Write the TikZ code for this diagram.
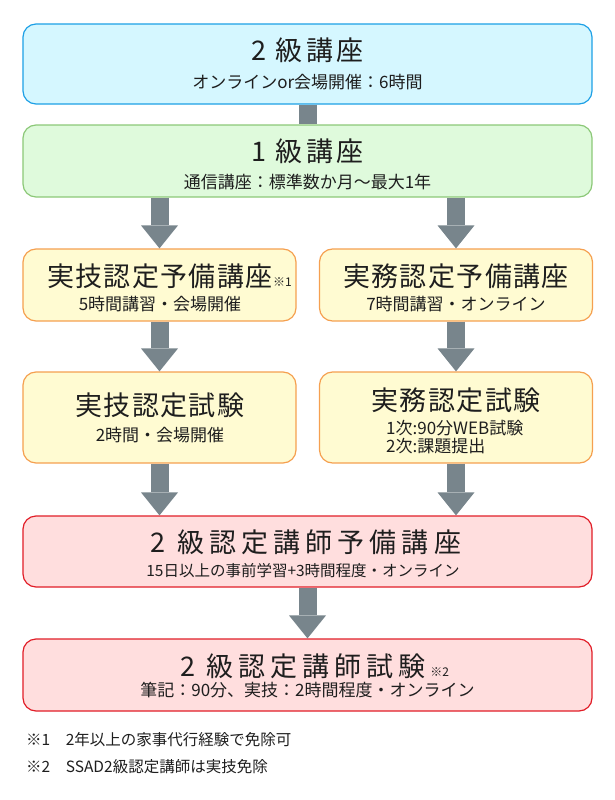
\documentclass[tikz,border=0pt]{standalone}
\usepackage{fontspec}
\setmainfont{Noto Sans CJK JP}
\newfontfamily\ttlfont[LetterSpace=12]{Noto Sans CJK JP}
\newfontfamily\ttlfontC[LetterSpace=5]{Noto Sans CJK JP}
\newfontfamily\ttlfontE[LetterSpace=19]{Noto Sans CJK JP}
\usetikzlibrary{arrows.meta}
\definecolor{ssad_blue}{RGB}{30, 160, 230}
\definecolor{ssad_cyan}{RGB}{213, 247, 255}
\definecolor{ssad_green}{RGB}{140, 200, 120}
\definecolor{ssad_mint}{RGB}{223, 250, 220}
\definecolor{ssad_orange}{RGB}{245, 160, 80}
\definecolor{ssad_cream}{RGB}{255, 251, 210}
\definecolor{ssad_red}{RGB}{225, 30, 40}
\definecolor{ssad_pink}{RGB}{255, 222, 222}
\definecolor{ssad_grey}{RGB}{120, 133, 140}
\definecolor{ssad_ink}{RGB}{30, 30, 30}
\tikzstyle{bx}=[rectangle,rounded corners=13bp,line width=1.2bp,inner sep=0pt]
\tikzstyle{bb}=[bx,fill=ssad_cyan,draw=ssad_blue,minimum width=569bp]
\tikzstyle{gb}=[bx,fill=ssad_mint,draw=ssad_green,minimum width=569bp]
\tikzstyle{yb}=[bx,fill=ssad_cream,draw=ssad_orange,minimum width=273bp]
\tikzstyle{rb}=[bx,fill=ssad_pink,draw=ssad_red,minimum width=569bp]
\tikzstyle{ttl}=[anchor=base,inner sep=0pt,text=ssad_ink,
  font=\ttlfont\fontsize{27bp}{30bp}\selectfont]
\tikzstyle{ttlc}=[ttl,font=\ttlfontC\fontsize{27bp}{30bp}\selectfont]
\tikzstyle{ttle}=[ttl,font=\ttlfontE\fontsize{27bp}{30bp}\selectfont]
\tikzstyle{sub}=[anchor=base,inner sep=0pt,text=ssad_ink,
  font=\fontsize{17bp}{20bp}\selectfont]
\tikzstyle{subs}=[sub,font=\fontsize{15.5bp}{18bp}\selectfont]
\tikzstyle{note}=[anchor=base west,inner sep=0pt,text=ssad_ink,
  font=\fontsize{12bp}{14bp}\selectfont]
\tikzstyle{fn}=[anchor=base west,inner sep=0pt,text=ssad_ink,
  font=\fontsize{15.5bp}{18bp}\selectfont]
\tikzstyle{arr}=[draw=ssad_grey,line width=18bp,
  -{Triangle[length=23bp,width=37bp,line width=0pt]}]

\begin{document}
\begin{tikzpicture}[x=1bp,y=-1bp]
    \useasboundingbox (0,0) rectangle (615,800);
    % boxes
    \node [style=bb, minimum height=80bp] (kouza2) at (307.5,64) {};
    \node [style=gb, minimum height=72bp] (kouza1) at (307.5,161) {};
    \node [style=yb, minimum height=72bp] (jgyobi) at (159.5,285) {};
    \node [style=yb, minimum height=72bp] (jmyobi) at (456,285) {};
    \node [style=yb, minimum height=91bp] (jgshiken) at (159.5,417.5) {};
    \node [style=yb, minimum height=91bp] (jmshiken) at (456,417.5) {};
    \node [style=rb, minimum height=71bp] (kyobi) at (307.5,551.5) {};
    \node [style=rb, minimum height=72bp] (kshiken) at (307.5,675) {};
    % texts
    \node [style=ttl] (t1) at (307.5,61) {2 級講座};
    \node [style=sub] (s1) at (307.5,88) {オンラインor会場開催：6時間};
    \node [style=ttl] (t2) at (307.5,161) {1 級講座};
    \node [style=sub] (s2) at (307.5,188) {通信講座：標準数か月〜最大1年};
    \node [style=ttlc] (t3) at (160,286) {実技認定予備講座};
    \node [style=note] (m1) at (t3.base east) {※1};
    \node [style=sub] (s3) at (160,310) {5時間講習・会場開催};
    \node [style=ttlc] (t4) at (456,286) {実務認定予備講座};
    \node [style=sub] (s4) at (456,310) {7時間講習・オンライン};
    \node [style=ttlc] (t5) at (160,415) {実技認定試験};
    \node [style=sub] (s5) at (160,441) {2時間・会場開催};
    \node [style=ttlc] (t6) at (456,410) {実務認定試験};
    \node [style=sub, anchor=base west] (s6) at (386,434) {1次:90分WEB試験};
    \node [style=sub, anchor=base west] (s7) at (386,452) {2次:課題提出};
    \node [style=ttle] (t7) at (306,552) {2 級認定講師予備講座};
    \node [style=subs] (s8) at (303,576) {15日以上の事前学習+3時間程度・オンライン};
    \node [style=ttle] (t8) at (303,676) {2 級認定講師試験};
    \node [style=note] (m2) at ([xshift=4bp]t8.base east) {※2};
    \node [style=sub] (s9) at (307.5,696) {筆記：90分、実技：2時間程度・オンライン};
    \node [style=fn] (f1) at (26,745) {※1　2年以上の家事代行経験で免除可};
    \node [style=fn] (f2) at (26,772) {※2　SSAD2級認定講師は実技免除};
    % connectors
    \draw [draw=ssad_grey, line width=18bp] (kouza2.south) to (kouza1.north);
    \draw [style=arr] (jgyobi.north |- kouza1.south) to (jgyobi.north);
    \draw [style=arr] (jmyobi.north |- kouza1.south) to (jmyobi.north);
    \draw [style=arr] (jgyobi.south) to (jgshiken.north);
    \draw [style=arr] (jmyobi.south) to (jmshiken.north);
    \draw [style=arr] (jgshiken.south) to (jgshiken.south |- kyobi.north);
    \draw [style=arr] (jmshiken.south) to (jmshiken.south |- kyobi.north);
    \draw [style=arr] (kyobi.south) to (kshiken.north);
  \end{tikzpicture}
\end{document}
